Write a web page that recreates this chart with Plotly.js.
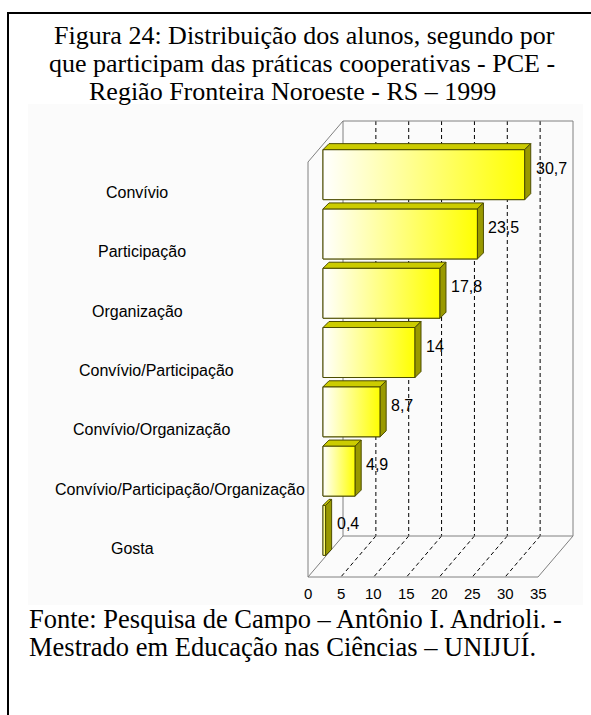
<!DOCTYPE html>
<html><head><meta charset="utf-8">
<script src="https://cdn.plot.ly/plotly-3.0.1.min.js"></script>
<style>html,body{margin:0;padding:0;background:#fff;}#chart{width:591px;height:715px;}</style>
</head><body><div id="chart"></div>
<script>
// ---------- data ----------
const categories = ['Convívio','Participação','Organização','Convívio/Participação','Convívio/Organização','Convívio/Participação/Organização','Gosta'];
const values = [30.7, 23.5, 17.8, 14, 8.7, 4.9, 0.4];
const valueLabels = ['30,7','23,5','17,8','14','8,7','4,9','0,4'];
const tickValues = [0,5,10,15,20,25,30,35];
const tickLabels = ['0','5','10','15','20','25','30','35'];
const titleLines = ['Figura 24: Distribuição dos alunos, segundo por','que participam das práticas cooperativas - PCE -','Região Fronteira Noroeste - RS – 1999'];
const sourceLines = ['Fonte: Pesquisa de Campo – Antônio I. Andrioli. -','Mestrado em Educação nas Ciências – UNIJUÍ.'];

// ---------- layout geometry (pixels) ----------
const W=591, H=715;
const PL=305, PR=577, PT=118, PB=581;
const X0PX=323, PXX=230/35;
const BAR_TOP_PX=145, PXY=415/7;
const xMin=(PL-X0PX)/PXX, xMax=(PR-X0PX)/PXX;
const yTopVal=(PT-BAR_TOP_PX)/PXY-0.5, yBotVal=(PB-BAR_TOP_PX)/PXY-0.5;
const FRONT_DX=-15/PXX, FRONT_DY=17/PXY, BACK_DX=20/PXX, BACK_DY=-24/PXY;
const BAR_HALF=25/PXY, BAR_DX=6/PXX, BAR_DY=-6/PXY;
const planeTop=-0.5, planeBot=categories.length-0.5;
const paperX=px=>(px-PL)/(PR-PL);
const paperY=py=>(PB-py)/(PB-PT);
const labelCenterPx=[137,142,137,156,152,180,132];
const titleCenterPx=[304,302,292];
const titleMidPy=[35.3,63.6,91.9];
const sourceMidPy=[619,647];

const serif='"Liberation Serif","Times New Roman",serif';
const sans='"Liberation Sans",Arial,sans-serif';
const grey='#808080', olive='#4d4d00', topCol='#cccc00', sideCol='#999900';

const yIdx=categories.map((c,i)=>i);
const traces=[];
traces.push({type:'bar',orientation:'h',y:yIdx,x:values,base:0,width:2*BAR_HALF,
  marker:{color:'#ffff00',line:{color:olive,width:1}},hoverinfo:'skip',showlegend:false});
values.forEach((v,i)=>{
  traces.push({type:'scatter',mode:'lines',fill:'toself',
    x:[0,v,v,0,0], y:[i-BAR_HALF,i-BAR_HALF,i+BAR_HALF,i+BAR_HALF,i-BAR_HALF],
    line:{color:olive,width:1},
    fillgradient:{type:'horizontal',colorscale:[[0,'#ffffff'],[1,'#ffff00']]},
    hoverinfo:'skip',showlegend:false});
});

const shapes=[];
function seg(x0,y0,x1,y1,color,width,dash){return {type:'line',xref:'x',yref:'y',x0:x0,y0:y0,x1:x1,y1:y1,line:{color:color,width:width,dash:dash||'solid'},layer:'below'};}
const fx=t=>t+FRONT_DX, bx=t=>t+BACK_DX;
const fTop=planeTop+FRONT_DY, fBot=planeBot+FRONT_DY, bTop=planeTop+BACK_DY, bBot=planeBot+BACK_DY;
const tMax=tickValues[tickValues.length-1];
// gridlines
tickValues.slice(1,-1).forEach(t=>{
  shapes.push(seg(bx(t),bTop,bx(t),bBot,'#000',1,'4px,3px'));
  shapes.push(seg(bx(t),bBot,fx(t),fBot,'#000',1,'4px,3px'));
});
// box edges
shapes.push(seg(bx(0),bTop,bx(tMax),bTop,grey,1));
shapes.push(seg(bx(tMax),bTop,bx(tMax),bBot,grey,1));
shapes.push(seg(bx(0),bTop,bx(0),bBot,grey,1));
shapes.push(seg(bx(0),bBot,bx(tMax),bBot,grey,1));
shapes.push(seg(fx(0),fTop,fx(0),fBot,grey,1));
shapes.push(seg(fx(0),fTop,bx(0),bTop,grey,1));
shapes.push(seg(fx(0),fBot,bx(0),bBot,grey,1));
shapes.push(seg(fx(0),fBot,fx(tMax),fBot,grey,1));
shapes.push(seg(fx(tMax),fBot,bx(tMax),bBot,grey,1));
// bar top and side faces
values.forEach((v,i)=>{
  const t=i-BAR_HALF, b=i+BAR_HALF;
  shapes.push({type:'path',xref:'x',yref:'y',layer:'above',fillcolor:topCol,line:{color:olive,width:1},
    path:`M0,${t} L${v},${t} L${v+BAR_DX},${t+BAR_DY} L${BAR_DX},${t+BAR_DY} Z`});
  shapes.push({type:'path',xref:'x',yref:'y',layer:'above',fillcolor:sideCol,line:{color:olive,width:1},
    path:`M${v},${t} L${v+BAR_DX},${t+BAR_DY} L${v+BAR_DX},${b+BAR_DY} L${v},${b} Z`});
});
// chart picture background and page frame
shapes.push({type:'rect',xref:'paper',yref:'paper',x0:paperX(28),x1:paperX(583),y0:paperY(605),y1:paperY(104),fillcolor:'#fbfbfb',line:{width:0},layer:'below'});
shapes.push({type:'line',xref:'paper',yref:'paper',x0:paperX(7),x1:paperX(600),y0:paperY(13),y1:paperY(13),line:{color:'#000',width:2}});
shapes.push({type:'line',xref:'paper',yref:'paper',x0:paperX(8),x1:paperX(8),y0:paperY(12),y1:paperY(720),line:{color:'#000',width:2}});

const annotations=[];
values.forEach((v,i)=>{
  annotations.push({xref:'x',yref:'y',x:v,y:i,text:valueLabels[i],showarrow:false,xanchor:'left',yanchor:'middle',xshift:9,yshift:6.5,font:{family:sans,size:16,color:'#000'}});
});
categories.forEach((c,i)=>{
  annotations.push({xref:'paper',yref:'y',x:paperX(labelCenterPx[i]),y:i,text:c,showarrow:false,xanchor:'center',yanchor:'middle',yshift:-18,font:{family:sans,size:16,color:'#000'}});
});
tickValues.forEach((t,i)=>{
  annotations.push({xref:'x',yref:'y',x:fx(t),y:fBot,text:tickLabels[i],showarrow:false,xanchor:'center',yanchor:'middle',yshift:-16,font:{family:sans,size:15,color:'#000'}});
});
titleLines.forEach((s,i)=>{
  annotations.push({xref:'paper',yref:'paper',x:paperX(titleCenterPx[i]),y:paperY(titleMidPy[i]),text:s,showarrow:false,xanchor:'center',yanchor:'middle',font:{family:serif,size:26,color:'#000'}});
});
sourceLines.forEach((s,i)=>{
  annotations.push({xref:'paper',yref:'paper',x:paperX(27),y:paperY(sourceMidPy[i]),text:s,showarrow:false,xanchor:'left',yanchor:'middle',font:{family:serif,size:26.5,color:'#000'}});
});

const layout={width:W,height:H,autosize:false,
  margin:{l:PL,r:W-PR,t:PT,b:H-PB,pad:0},
  paper_bgcolor:'#ffffff',plot_bgcolor:'rgba(0,0,0,0)',
  xaxis:{range:[xMin,xMax],visible:false,fixedrange:true},
  yaxis:{range:[yBotVal,yTopVal],visible:false,fixedrange:true},
  showlegend:false,shapes:shapes,annotations:annotations,bargap:0};
Plotly.newPlot('chart',traces,layout,{displayModeBar:false,staticPlot:true});
</script></body></html>
